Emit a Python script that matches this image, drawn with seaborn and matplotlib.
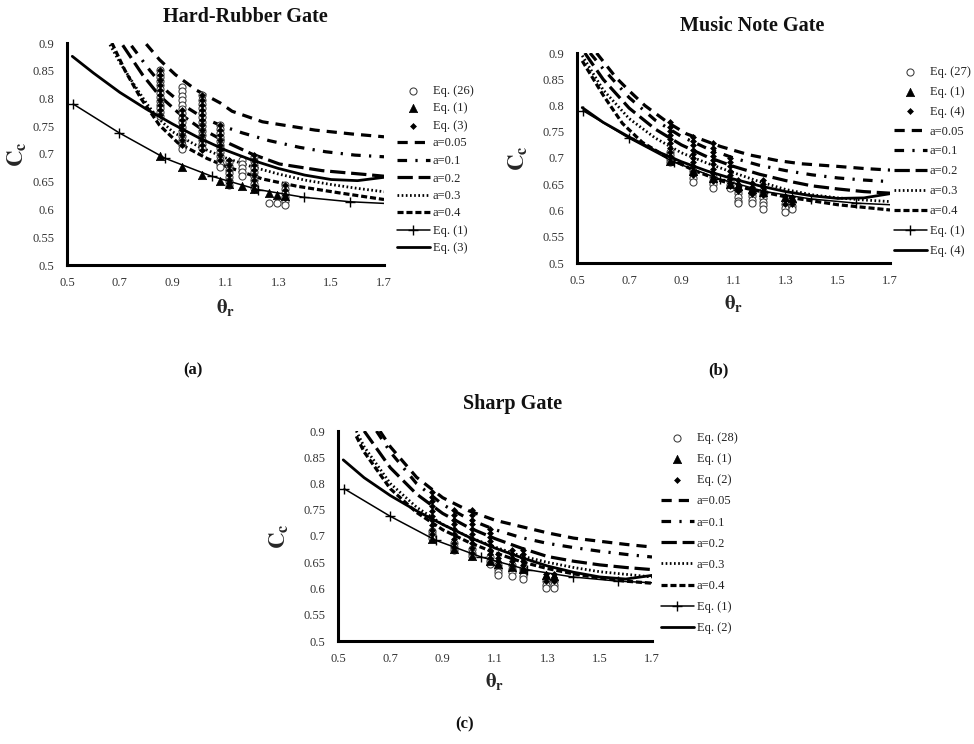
import matplotlib
matplotlib.use("Agg")
import matplotlib.pyplot as plt
import seaborn as sns

# ---------------------------------------------------------------- axes ticks
x_ticks = [0.5, 0.7, 0.9, 1.1, 1.3, 1.5, 1.7]
x_tick_labels = ["0.5", "0.7", "0.9", "1.1", "1.3", "1.5", "1.7"]
y_ticks = [0.5, 0.55, 0.6, 0.65, 0.7, 0.75, 0.8, 0.85, 0.9]
y_tick_labels = ["0.5", "0.55", "0.6", "0.65", "0.7", "0.75", "0.8", "0.85", "0.9"]

a_labels = ["a=0.05", "a=0.1", "a=0.2", "a=0.3", "a=0.4"]

# ---------------------------------------------------------------- Eq. (1), common to all gates
eq1_theta = [0.5236, 0.6981, 0.8727, 1.0472, 1.2217, 1.3963, 1.5708, 1.7]
eq1_cc = [0.790, 0.738, 0.692, 0.660, 0.636, 0.622, 0.614, 0.611]

# ---------------------------------------------------------------- (a) Hard-Rubber Gate
hr_a005_x = [0.80, 0.85, 0.91, 0.99, 1.08, 1.125, 1.24, 1.44, 1.58, 1.70]
hr_a005_y = [0.898, 0.870, 0.843, 0.815, 0.792, 0.777, 0.758, 0.743, 0.736, 0.731]
hr_a01_x = [0.744, 0.813, 0.881, 0.95, 1.02, 1.09, 1.164, 1.266, 1.38, 1.48, 1.59, 1.70]
hr_a01_y = [0.895, 0.851, 0.812, 0.785, 0.764, 0.750, 0.738, 0.724, 0.712, 0.704, 0.698, 0.695]
hr_a02_x = [0.711, 0.787, 0.85, 0.92, 1.00, 1.10, 1.20, 1.304, 1.466, 1.632, 1.70]
hr_a02_y = [0.896, 0.842, 0.805, 0.775, 0.748, 0.722, 0.700, 0.682, 0.670, 0.663, 0.660]
hr_a03_x = [0.6625, 0.70, 0.75, 0.80, 0.84, 0.90, 0.95, 1.00, 1.10, 1.20, 1.30, 1.40, 1.50, 1.60, 1.70]
hr_a03_y = [0.897, 0.865, 0.828, 0.792, 0.767, 0.740, 0.726, 0.713, 0.693, 0.677, 0.664, 0.653, 0.645, 0.638, 0.632]
hr_a04_x = [0.67, 0.72, 0.78, 0.85, 0.92, 1.03, 1.10, 1.24, 1.37, 1.53, 1.70]
hr_a04_y = [0.900, 0.850, 0.800, 0.752, 0.720, 0.692, 0.678, 0.655, 0.642, 0.630, 0.618]
hr_fit_x = [0.52, 0.60, 0.70, 0.80, 0.90, 1.00, 1.10, 1.20, 1.30, 1.40, 1.50, 1.60, 1.70]
hr_fit_y = [0.876, 0.846, 0.811, 0.781, 0.754, 0.729, 0.707, 0.689, 0.674, 0.662, 0.654, 0.652, 0.658]

hr_theta = [0.851, 0.937, 1.010, 1.080, 1.115, 1.164, 1.209, 1.266, 1.296, 1.326]
hr_obs_cc = [
    [0.851, 0.845, 0.838, 0.831, 0.824, 0.817, 0.810, 0.803, 0.796, 0.789, 0.782, 0.775, 0.768],
    [0.821, 0.813, 0.805, 0.797, 0.789, 0.781, 0.773, 0.765, 0.757, 0.749, 0.741, 0.733, 0.725, 0.717, 0.709],
    [0.806, 0.798, 0.790, 0.782, 0.774, 0.766, 0.758, 0.750, 0.742, 0.734, 0.726, 0.718, 0.710],
    [0.752, 0.745, 0.738, 0.731, 0.724, 0.717, 0.710, 0.703, 0.696, 0.689, 0.682, 0.677],
    [0.686, 0.679, 0.672, 0.665, 0.658, 0.651, 0.644],
    [0.689, 0.682, 0.675, 0.668, 0.661],
    [0.695, 0.688, 0.681, 0.674, 0.667, 0.660, 0.653, 0.646, 0.639],
    [0.612],
    [0.612],
    [0.644, 0.637, 0.630, 0.623, 0.616, 0.609],
]
hr_eq1_cc = [0.697, 0.677, 0.662, 0.652, 0.646, 0.642, 0.637, 0.630, 0.626, 0.624]
hr_eqfit_cc = [
    [0.852, 0.843, 0.834, 0.825, 0.816, 0.807, 0.798, 0.789, 0.780, 0.771],
    [0.780, 0.771, 0.762, 0.753, 0.744, 0.735, 0.726, 0.717],
    [0.806, 0.797, 0.788, 0.779, 0.770, 0.761, 0.752, 0.743, 0.734, 0.725, 0.716, 0.707],
    [0.752, 0.743, 0.734, 0.725, 0.716, 0.707, 0.698, 0.689],
    [0.690, 0.681, 0.672, 0.663, 0.654, 0.647],
    [],
    [0.698, 0.689, 0.680, 0.671, 0.662, 0.653, 0.644, 0.635],
    [],
    [],
    [0.645, 0.636, 0.627, 0.620],
]

# ---------------------------------------------------------------- (b) Music Note Gate
mn_a005_x = [0.575, 0.65, 0.70, 0.76, 0.85, 0.92, 1.05, 1.16, 1.27, 1.36, 1.50, 1.60, 1.70]
mn_a005_y = [0.900, 0.853, 0.828, 0.800, 0.767, 0.746, 0.722, 0.706, 0.695, 0.689, 0.684, 0.680, 0.677]
mn_a01_x = [0.55, 0.60, 0.70, 0.80, 0.90, 1.00, 1.10, 1.20, 1.30, 1.40, 1.50, 1.60, 1.70]
mn_a01_y = [0.900, 0.870, 0.815, 0.772, 0.741, 0.718, 0.700, 0.686, 0.676, 0.668, 0.662, 0.658, 0.655]
mn_a02_x = [0.53, 0.60, 0.70, 0.80, 0.90, 1.00, 1.10, 1.20, 1.30, 1.40, 1.50, 1.60, 1.70]
mn_a02_y = [0.900, 0.850, 0.795, 0.755, 0.725, 0.702, 0.684, 0.669, 0.657, 0.647, 0.641, 0.636, 0.633]
mn_a03_x = [0.52, 0.60, 0.70, 0.80, 0.90, 1.00, 1.10, 1.20, 1.30, 1.40, 1.50, 1.60, 1.70]
mn_a03_y = [0.895, 0.830, 0.775, 0.738, 0.710, 0.690, 0.672, 0.655, 0.640, 0.630, 0.624, 0.620, 0.617]
mn_a04_x = [0.52, 0.60, 0.674, 0.75, 0.85, 0.95, 1.05, 1.15, 1.30, 1.50, 1.70]
mn_a04_y = [0.885, 0.820, 0.766, 0.730, 0.700, 0.676, 0.657, 0.642, 0.626, 0.611, 0.601]
mn_fit_x = [0.52, 0.60, 0.70, 0.80, 0.90, 1.00, 1.10, 1.20, 1.30, 1.40, 1.50, 1.60, 1.70]
mn_fit_y = [0.796, 0.768, 0.740, 0.714, 0.693, 0.675, 0.660, 0.647, 0.636, 0.628, 0.623, 0.624, 0.632]

mn_theta = [0.856, 0.944, 1.020, 1.086, 1.117, 1.170, 1.213, 1.296, 1.326]
mn_obs_cc = [
    [0.712, 0.705, 0.698, 0.692],
    [0.676, 0.669, 0.662, 0.655],
    [0.664, 0.657, 0.650, 0.643],
    [0.656, 0.649, 0.642],
    [0.640, 0.633, 0.626, 0.619, 0.614],
    [0.634, 0.627, 0.620, 0.614],
    [0.638, 0.631, 0.624, 0.617, 0.610, 0.603],
    [0.612, 0.605, 0.598],
    [0.616, 0.609, 0.602],
]
mn_eq1_cc = [0.695, 0.675, 0.661, 0.651, 0.646, 0.641, 0.636, 0.626, 0.624]
mn_eqfit_cc = [
    [0.768, 0.760, 0.752, 0.744, 0.736, 0.728, 0.720, 0.712, 0.704],
    [0.740, 0.732, 0.724, 0.716, 0.708, 0.700, 0.692, 0.684, 0.676, 0.668],
    [0.728, 0.720, 0.712, 0.704, 0.696, 0.688, 0.680, 0.672, 0.664, 0.656],
    [0.700, 0.692, 0.684, 0.676, 0.668, 0.660, 0.652, 0.646],
    [0.658, 0.651, 0.644, 0.637],
    [0.652, 0.645, 0.638, 0.631],
    [0.658, 0.651, 0.644, 0.637, 0.630],
    [0.627, 0.620, 0.613],
    [0.625, 0.618, 0.612],
]

# ---------------------------------------------------------------- (c) Sharp Gate
sg_a005_x = [0.66, 0.70, 0.80, 0.90, 1.00, 1.10, 1.20, 1.30, 1.40, 1.50, 1.60, 1.70]
sg_a005_y = [0.900, 0.870, 0.812, 0.773, 0.748, 0.730, 0.718, 0.706, 0.696, 0.690, 0.684, 0.679]
sg_a01_x = [0.647, 0.70, 0.80, 0.90, 1.00, 1.10, 1.20, 1.30, 1.40, 1.50, 1.60, 1.70]
sg_a01_y = [0.900, 0.860, 0.800, 0.760, 0.732, 0.712, 0.697, 0.686, 0.678, 0.671, 0.665, 0.660]
sg_a02_x = [0.60, 0.70, 0.80, 0.90, 1.00, 1.10, 1.20, 1.30, 1.40, 1.50, 1.60, 1.70]
sg_a02_y = [0.900, 0.830, 0.780, 0.743, 0.716, 0.695, 0.677, 0.661, 0.652, 0.645, 0.640, 0.636]
sg_a03_x = [0.57, 0.60, 0.70, 0.80, 0.90, 1.00, 1.10, 1.20, 1.30, 1.40, 1.50, 1.60, 1.70]
sg_a03_y = [0.900, 0.870, 0.800, 0.755, 0.722, 0.698, 0.679, 0.662, 0.650, 0.640, 0.632, 0.627, 0.622]
sg_a04_x = [0.57, 0.60, 0.70, 0.80, 0.90, 1.00, 1.10, 1.20, 1.30, 1.40, 1.50, 1.60, 1.70]
sg_a04_y = [0.890, 0.860, 0.790, 0.745, 0.712, 0.688, 0.668, 0.651, 0.638, 0.628, 0.620, 0.614, 0.610]
sg_fit_x = [0.52, 0.60, 0.70, 0.80, 0.90, 1.00, 1.10, 1.20, 1.30, 1.40, 1.50, 1.60, 1.70]
sg_fit_y = [0.845, 0.811, 0.777, 0.748, 0.722, 0.698, 0.677, 0.659, 0.643, 0.631, 0.622, 0.618, 0.625]

sg_theta = [0.861, 0.943, 1.013, 1.080, 1.113, 1.164, 1.208, 1.296, 1.327]
sg_obs_cc = [
    [0.710, 0.703, 0.697],
    [0.686, 0.679, 0.673],
    [0.675, 0.668, 0.661],
    [0.660, 0.653, 0.647],
    [0.645, 0.638, 0.631, 0.625],
    [0.645, 0.638, 0.631, 0.624],
    [0.638, 0.631, 0.624, 0.619],
    [0.614, 0.607, 0.601],
    [0.614, 0.607, 0.601],
]
sg_eq1_cc = [0.694, 0.675, 0.661, 0.652, 0.647, 0.641, 0.637, 0.626, 0.624]
sg_eqfit_cc = [
    [0.784, 0.775, 0.766, 0.757, 0.748, 0.739, 0.730, 0.721, 0.712, 0.703],
    [0.749, 0.740, 0.731, 0.722, 0.713, 0.704, 0.695, 0.686, 0.680],
    [0.749, 0.740, 0.731, 0.722, 0.713, 0.704, 0.695, 0.686, 0.677, 0.668],
    [0.714, 0.706, 0.698, 0.690, 0.682, 0.674, 0.666, 0.658],
    [0.666, 0.659, 0.652, 0.645],
    [0.673, 0.666, 0.659, 0.652, 0.645],
    [0.673, 0.666, 0.659, 0.652, 0.645, 0.638],
    [0.628, 0.621, 0.614],
    [0.628, 0.621, 0.614],
]

# ---------------------------------------------------------------- styling
W, H = 974, 744
sns.set_theme(style="white")
plt.rcParams["font.family"] = ["Liberation Serif", "DejaVu Serif"]
plt.rcParams["mathtext.fontset"] = "stix"

A_STYLES = [
    dict(linestyle=(0, (3.2, 2.2)), linewidth=2.3),
    dict(linestyle=(0, (3.0, 2.6, 0.7, 2.6)), linewidth=2.3),
    dict(linestyle=(0, (4.8, 1.8)), linewidth=2.3),
    dict(linestyle=(0, (0.6, 0.9)), linewidth=2.0),
    dict(linestyle=(0, (1.9, 0.9)), linewidth=2.3),
]
INK = "#222222"


def px_rect(x0, y0, x1, y1):
    return [x0 / W, 1 - y1 / H, (x1 - x0) / W, (y1 - y0) / H]


def flatten(theta, groups):
    xs, ys = [], []
    for t, g in zip(theta, groups):
        xs += [t] * len(g)
        ys += list(g)
    return xs, ys


def draw_panel(ax, curves, fit, theta, obs, eq1_pts, eqfit, obs_name, fit_name,
               legend_xy, label_gap, ylab_x):
    handles = []
    # family of a-curves
    for (cx, cy), st in zip(curves, A_STYLES):
        sns.lineplot(x=cx, y=cy, ax=ax, color="black", sort=False, **st)
        handles.append(ax.lines[-1])

    # measured contraction coefficients
    ox, oy = flatten(theta, obs)
    sns.scatterplot(x=ox, y=oy, ax=ax, marker="o", s=26, facecolor="white",
                    edgecolor="#3a3a3a", linewidth=0.75, zorder=3)
    h_obs = ax.collections[-1]

    # fitted equation evaluated at the test angles
    fx, fy = flatten(theta, eqfit)
    sns.scatterplot(x=fx, y=fy, ax=ax, marker="D", s=9, color="black",
                    edgecolor="black", linewidth=0.5, zorder=4)
    h_fitpts = ax.collections[-1]

    # Eq. (1) at the test angles
    sns.scatterplot(x=theta, y=eq1_pts, ax=ax, marker="^", s=36, color="black",
                    edgecolor="black", linewidth=0.5, zorder=5)
    h_eq1pts = ax.collections[-1]

    # Eq. (1) curve with a cross every 10 degrees
    sns.lineplot(x=eq1_theta, y=eq1_cc, ax=ax, color="black", linewidth=1.1,
                 marker="+", markersize=7, mew=1.0, mec="black",
                 markevery=slice(0, 7), sort=False, zorder=5)
    h_eq1 = ax.lines[-1]

    # fitted curve
    sns.lineplot(x=fit[0], y=fit[1], ax=ax, color="black", linewidth=2.0,
                 sort=False, zorder=5)
    h_fit = ax.lines[-1]

    ax.set_xlim(0.5, 1.7)
    ax.set_ylim(0.5, 0.9)
    ax.set_xticks(x_ticks, x_tick_labels)
    ax.set_yticks(y_ticks, y_tick_labels)
    ax.tick_params(length=0, pad=9, labelsize=9, labelcolor="#333333")
    for lab in ax.get_xticklabels() + ax.get_yticklabels():
        lab.set_family("Liberation Serif")
    sns.despine(ax=ax)
    for side in ("left", "bottom"):
        ax.spines[side].set_linewidth(2.2)
        ax.spines[side].set_color("black")
    ax.set_xlabel(r"$\mathbf{\theta_r}$", fontsize=15)
    ax.set_ylabel(r"$\mathbf{C_c}$", fontsize=16.5)
    ax.xaxis.set_label_coords(0.5, -0.145)
    ax.yaxis.set_label_coords(ylab_x, 0.5)

    leg_handles = [h_obs, h_eq1pts, h_fitpts] + handles + [h_eq1, h_fit]
    leg_labels = [obs_name, "Eq. (1)", fit_name] + a_labels + ["Eq. (1)", fit_name]
    leg = ax.legend(leg_handles, leg_labels, loc="upper left",
                    bbox_to_anchor=(legend_xy[0] / W, 1 - legend_xy[1] / H),
                    bbox_transform=fig.transFigure, frameon=False, fontsize=9,
                    handlelength=2.6, handletextpad=0.25, labelspacing=label_gap,
                    borderpad=0, borderaxespad=0, scatterpoints=1, numpoints=1)
    for t in leg.get_texts():
        t.set_color(INK)


fig = plt.figure(figsize=(W / 100, H / 100), dpi=100)
ax_a = fig.add_axes(px_rect(67, 43, 384, 265))
ax_b = fig.add_axes(px_rect(577, 53, 890, 263))
ax_c = fig.add_axes(px_rect(338, 431, 652, 641))

draw_panel(ax_a,
           [(hr_a005_x, hr_a005_y), (hr_a01_x, hr_a01_y), (hr_a02_x, hr_a02_y),
            (hr_a03_x, hr_a03_y), (hr_a04_x, hr_a04_y)],
           (hr_fit_x, hr_fit_y), hr_theta, hr_obs_cc, hr_eq1_cc, hr_eqfit_cc,
           "Eq. (26)", "Eq. (3)", legend_xy=(397, 85), label_gap=0.44, ylab_x=-0.12)
draw_panel(ax_b,
           [(mn_a005_x, mn_a005_y), (mn_a01_x, mn_a01_y), (mn_a02_x, mn_a02_y),
            (mn_a03_x, mn_a03_y), (mn_a04_x, mn_a04_y)],
           (mn_fit_x, mn_fit_y), mn_theta, mn_obs_cc, mn_eq1_cc, mn_eqfit_cc,
           "Eq. (27)", "Eq. (4)", legend_xy=(894, 66), label_gap=0.63, ylab_x=-0.15)
draw_panel(ax_c,
           [(sg_a005_x, sg_a005_y), (sg_a01_x, sg_a01_y), (sg_a02_x, sg_a02_y),
            (sg_a03_x, sg_a03_y), (sg_a04_x, sg_a04_y)],
           (sg_fit_x, sg_fit_y), sg_theta, sg_obs_cc, sg_eq1_cc, sg_eqfit_cc,
           "Eq. (28)", "Eq. (2)", legend_xy=(661, 432), label_gap=0.73, ylab_x=-0.15)

title_kw = dict(ha="center", va="center", fontsize=14.5, fontweight="bold",
                family="Liberation Serif", color="#111111")
fig.text(245 / W, 1 - 17 / H, "Hard-Rubber Gate", **title_kw)
fig.text(752 / W, 1 - 26 / H, "Music Note Gate", **title_kw)
fig.text(513 / W, 1 - 404 / H, "Sharp Gate", **title_kw)

tag_kw = dict(ha="center", va="center", fontsize=12, fontweight="bold",
              family="Liberation Serif", color="#111111")
fig.text(193 / W, 1 - 370 / H, "(a)", **tag_kw)
fig.text(718 / W, 1 - 370 / H, "(b)", **tag_kw)
fig.text(465 / W, 1 - 724 / H, "(c)", **tag_kw)

fig.savefig("out.png", dpi=100)
